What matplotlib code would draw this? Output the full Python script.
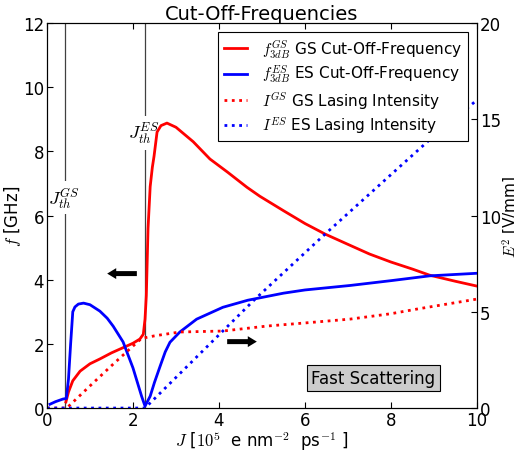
import numpy as np
import matplotlib
matplotlib.use('Agg')
import matplotlib.pyplot as plt

plt.rcParams['mathtext.fontset'] = 'cm'
plt.rcParams['font.family'] = 'DejaVu Sans'

# ---- cut-off frequencies (left axis, GHz)
gs_J = [0.44, 0.5, 0.6, 0.77, 1.0, 1.23, 1.5, 1.7, 2.0, 2.16, 2.24, 2.28, 2.31, 2.35, 2.4,
        2.45, 2.49, 2.56, 2.65, 2.79, 3.0, 3.4, 3.79, 4.2, 4.65, 4.95, 5.5, 6.0, 6.47,
        7.0, 7.5, 8.0, 8.5, 8.9, 9.5, 10.0]
gs_f = [0.19, 0.5, 0.85, 1.15, 1.38, 1.53, 1.72, 1.84, 2.02, 2.15, 2.3, 2.77, 3.5, 5.6, 6.9,
        7.5, 7.85, 8.6, 8.8, 8.88, 8.75, 8.3, 7.76, 7.35, 6.88, 6.6, 6.15, 5.75, 5.42,
        5.1, 4.8, 4.55, 4.33, 4.14, 3.95, 3.8]

es_J = [0.07, 0.2, 0.37, 0.45, 0.5, 0.55, 0.6, 0.65, 0.73, 0.85, 1.0, 1.23, 1.4, 1.54,
        1.77, 2.0, 2.2, 2.28, 2.4, 2.5, 2.63, 2.75, 2.86, 3.09, 3.48, 4.09, 4.67, 5.5,
        6.0, 7.05, 8.0, 8.9, 10.0]
es_f = [0.12, 0.2, 0.28, 0.3, 0.9, 2.0, 3.0, 3.15, 3.24, 3.27, 3.22, 3.02, 2.8, 2.55,
        2.06, 1.25, 0.37, 0.06, 0.37, 0.8, 1.3, 1.75, 2.05, 2.37, 2.77, 3.14, 3.36, 3.58,
        3.68, 3.82, 3.97, 4.12, 4.2]

# ---- lasing intensities (right axis, V/mm)
gs_I_J = [0.0, 0.46, 1.0, 1.5, 2.0, 2.2, 2.5, 3.09, 4.09, 5.12, 6.0, 7.05, 8.0, 8.6, 10.0]
gs_I = [0.0, 0.0, 1.15, 2.2, 3.22, 3.62, 3.75, 3.95, 4.0, 4.26, 4.42, 4.62, 4.9, 5.14, 5.66]

es_I_J = [0.0, 2.28, 4.09, 4.84, 6.47, 8.98, 9.84, 10.0]
es_I = [0.0, 0.0, 4.0, 5.66, 9.04, 14.1, 15.7, 16.0]

J_th_gs = 0.43
J_th_es = 2.28

fig = plt.figure(figsize=(5.14, 4.52), dpi=100)
ax = fig.add_axes([0.0914, 0.095, 0.8366, 0.852])
ax2 = ax.twinx()

l1, = ax.plot(gs_J, gs_f, color='red', lw=2, zorder=3)
l2, = ax.plot(es_J, es_f, color='blue', lw=2, zorder=3)
l3, = ax2.plot(gs_I_J, gs_I, color='red', lw=2, ls=':')
l4, = ax2.plot(es_I_J, es_I, color='blue', lw=2, ls=':')

# threshold markers
for j, lab, y in [(J_th_gs, r'$J_{th}^{GS}$', 6.57), (J_th_es, r'$J_{th}^{ES}$', 8.57)]:
    ax.axvline(j, color='0.25', lw=0.9, zorder=1)
    ax.text(j - 0.04, y, lab, ha='center', va='center', fontsize=13,
            bbox=dict(facecolor='white', edgecolor='none', pad=3), zorder=1.5)

# axis arrows
ax.arrow(2.09, 4.19, -0.69, 0, width=0.155, head_width=0.34, head_length=0.21,
         length_includes_head=True, color='k', lw=0, zorder=5)
ax.arrow(4.19, 2.07, 0.69, 0, width=0.155, head_width=0.34, head_length=0.21,
         length_includes_head=True, color='k', lw=0, zorder=5)

ax.text(7.59, 0.93, 'Fast Scattering', ha='center', va='center', fontsize=12,
        bbox=dict(facecolor='#cccccc', edgecolor='k', lw=0.8, pad=3))

ax.set_xlim(0, 10)
ax.set_ylim(0, 12)
ax2.set_ylim(0, 20)
ax.set_xticks([0, 2, 4, 6, 8, 10])
ax.set_yticks([0, 2, 4, 6, 8, 10, 12])
ax2.set_yticks([0, 5, 10, 15, 20])
ax.tick_params(direction='in', top=True, labelsize=12, length=4, pad=2)
ax2.tick_params(direction='in', labelsize=12, length=4, pad=2)

ax.set_xlabel(r'$J$ [$10^5$  e nm$^{-2}$  ps$^{-1}$ ]', fontsize=12, labelpad=0)
ax.set_ylabel(r'$f$ [GHz]', fontsize=12, labelpad=0)
ax2.set_ylabel(r'$E^2$ [V/mm]', fontsize=11, labelpad=0)
ax.set_title('Cut-Off-Frequencies', fontsize=14, pad=2)

leg = ax2.legend([l1, l2, l3, l4],
                 [r'$f_{3dB}^{GS}$ GS Cut-Off-Frequency',
                  r'$f_{3dB}^{ES}$ ES Cut-Off-Frequency',
                  r'$I^{GS}$ GS Lasing Intensity',
                  r'$I^{ES}$ ES Lasing Intensity'],
                 loc='upper right', fontsize=11, fancybox=False, framealpha=1,
                 edgecolor='k', handlelength=1.5, handletextpad=1.0,
                 labelspacing=0.25, borderaxespad=0.6, borderpad=0.35)
leg.get_frame().set_linewidth(0.8)
leg.set_zorder(10)

fig.savefig('out.png', dpi=100)
